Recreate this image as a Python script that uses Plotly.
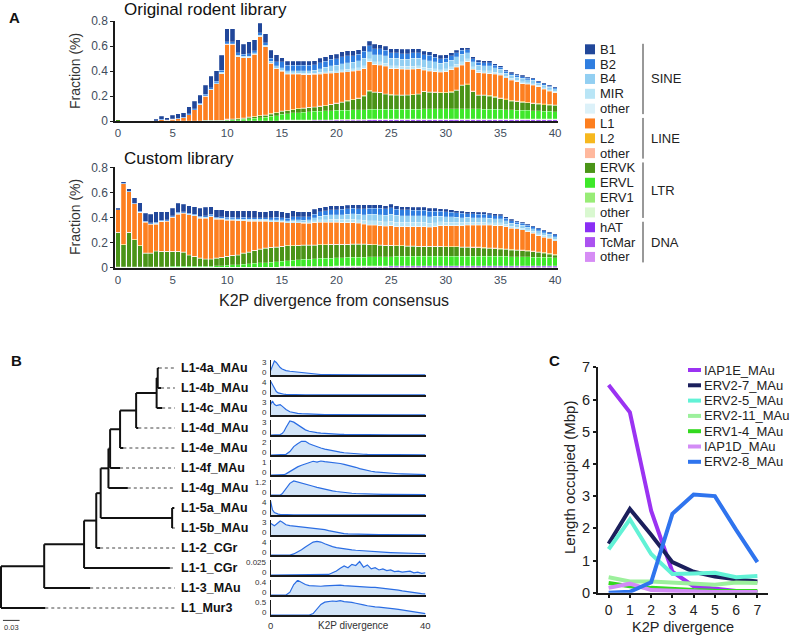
import plotly.graph_objects as go

W, H = 791, 635
FONT = "Liberation Sans, Arial, Helvetica, sans-serif"


def px(x):
    return x / W


def py(y):
    return 1 - y / H


# ---------------- Panel A data ----------------
divergence_bins = [i * 0.5 for i in range(81)]
a_xticks = [0, 5, 10, 15, 20, 25, 30, 35, 40]
a_yticks = [0, 0.2, 0.4, 0.6, 0.8]
a_yticktext = ["0", "0.2", "0.4", "0.6", "0.8"]

# Original rodent library
B1_o = [0, 0, 0, 0, 0, 0, 0, 0.010, 0.026, 0.016,
        0.028, 0.033, 0.038, 0.055, 0.058, 0.066, 0.074, 0.090, 0.085, 0.120,
        0.105, 0.105, 0.105, 0.080, 0.095, 0.085, 0.075, 0.070, 0.065, 0.055,
        0.035, 0.032, 0.032, 0.032, 0.032, 0.032, 0.032, 0.034, 0.036, 0.038,
        0.038, 0.040, 0.040, 0.038, 0.038, 0.040, 0.037, 0.036, 0.035, 0.034,
        0.034, 0.034, 0.033, 0.033, 0.033, 0.032, 0.030, 0.030, 0.028, 0.026,
        0.026, 0.025, 0.022, 0.020, 0.014, 0.015, 0.016, 0.016, 0.016, 0.014,
        0.012, 0.011, 0.011, 0.011, 0.012, 0.010, 0.010, 0.009, 0.009, 0.008,
        0.008]
B2_o = [0, 0, 0, 0, 0, 0, 0, 0, 0.003, 0.002,
        0.003, 0.004, 0.005, 0.007, 0.008, 0.009, 0.010, 0.012, 0.012, 0.018,
        0.015, 0.015, 0.020, 0.018, 0.020, 0.018, 0.020, 0.020, 0.025, 0.030,
        0.045, 0.042, 0.042, 0.042, 0.043, 0.043, 0.044, 0.048, 0.050, 0.052,
        0.052, 0.055, 0.055, 0.053, 0.053, 0.055, 0.048, 0.047, 0.046, 0.045,
        0.045, 0.045, 0.044, 0.044, 0.045, 0.044, 0.041, 0.041, 0.038, 0.035,
        0.035, 0.034, 0.032, 0.030, 0.024, 0.023, 0.023, 0.022, 0.022, 0.019,
        0.016, 0.014, 0.013, 0.013, 0.014, 0.012, 0.012, 0.010, 0.010, 0.010,
        0.010]
B4_o = [0, 0, 0, 0, 0, 0, 0, 0, 0, 0,
        0, 0, 0, 0.002, 0.002, 0.003, 0.004, 0.005, 0.005, 0.008,
        0.005, 0.005, 0.008, 0.008, 0.009, 0.010, 0.010, 0.010, 0.015, 0.022,
        0.020, 0.018, 0.019, 0.020, 0.021, 0.021, 0.022, 0.030, 0.035, 0.042,
        0.044, 0.050, 0.053, 0.052, 0.055, 0.060, 0.055, 0.057, 0.058, 0.057,
        0.057, 0.059, 0.057, 0.059, 0.062, 0.062, 0.058, 0.060, 0.056, 0.052,
        0.052, 0.055, 0.058, 0.062, 0.050, 0.042, 0.041, 0.041, 0.043, 0.036,
        0.031, 0.025, 0.024, 0.024, 0.028, 0.023, 0.025, 0.018, 0.020, 0.019,
        0.019]
MIR_o = [0, 0, 0, 0, 0, 0, 0, 0, 0, 0,
         0, 0, 0, 0, 0, 0, 0, 0, 0, 0.002,
         0.002, 0.002, 0.002, 0.002, 0.002, 0.002, 0.002, 0.002, 0.002, 0.002,
         0.008, 0.007, 0.007, 0.007, 0.007, 0.007, 0.007, 0.010, 0.011, 0.012,
         0.013, 0.016, 0.017, 0.017, 0.018, 0.021, 0.021, 0.021, 0.022, 0.021,
         0.021, 0.021, 0.021, 0.021, 0.022, 0.021, 0.020, 0.021, 0.020, 0.019,
         0.019, 0.020, 0.022, 0.023, 0.020, 0.018, 0.017, 0.017, 0.018, 0.013,
         0.012, 0.010, 0.010, 0.010, 0.011, 0.009, 0.009, 0.008, 0.009, 0.008,
         0.008]
SINEoth_o = [0, 0, 0, 0, 0, 0, 0, 0, 0, 0,
             0, 0, 0, 0, 0, 0, 0, 0, 0, 0,
             0, 0, 0, 0, 0, 0, 0, 0, 0, 0,
             0.003, 0.003, 0.003, 0.003, 0.003, 0.003, 0.003, 0.003, 0.003, 0.003,
             0.003, 0.003, 0.003, 0.003, 0.003, 0.003, 0.003, 0.003, 0.003, 0.003,
             0.003, 0.003, 0.003, 0.003, 0.003, 0.003, 0.003, 0.003, 0.003, 0.003,
             0.003, 0.003, 0.003, 0.003, 0.003, 0.003, 0.003, 0.003, 0.003, 0.003,
             0.003, 0.003, 0.003, 0.003, 0.003, 0.003, 0.003, 0.003, 0.003, 0.003,
             0.003]
L1_o = [0, 0, 0, 0, 0, 0, 0, 0.003, 0.010, 0.008,
        0.012, 0.017, 0.022, 0.047, 0.087, 0.127, 0.194, 0.244, 0.294, 0.374,
        0.596, 0.593, 0.492, 0.480, 0.474, 0.495, 0.630, 0.545, 0.400, 0.350,
        0.315, 0.290, 0.280, 0.272, 0.265, 0.260, 0.257, 0.255, 0.255, 0.248,
        0.240, 0.235, 0.228, 0.223, 0.220, 0.215, 0.230, 0.215, 0.216, 0.220,
        0.207, 0.206, 0.204, 0.201, 0.200, 0.198, 0.168, 0.165, 0.162, 0.160,
        0.165, 0.173, 0.178, 0.156, 0.178, 0.171, 0.175, 0.171, 0.173, 0.178,
        0.181, 0.168, 0.161, 0.153, 0.143, 0.143, 0.141, 0.133, 0.119, 0.105,
        0.095]
L2_o = [0, 0, 0, 0, 0, 0, 0, 0, 0, 0,
        0, 0, 0, 0, 0, 0, 0, 0, 0, 0,
        0.003, 0.003, 0.003, 0.003, 0.003, 0.003, 0.003, 0.003, 0.003, 0.003,
        0.003, 0.003, 0.003, 0.003, 0.003, 0.003, 0.003, 0.003, 0.003, 0.003,
        0.003, 0.003, 0.003, 0.003, 0.003, 0.003, 0.003, 0.003, 0.003, 0.003,
        0.003, 0.003, 0.003, 0.003, 0.003, 0.003, 0.003, 0.003, 0.003, 0.003,
        0.003, 0.005, 0.005, 0.005, 0.005, 0.005, 0.005, 0.005, 0.005, 0.005,
        0.005, 0.005, 0.005, 0.005, 0.005, 0.005, 0.005, 0.005, 0.005, 0.005,
        0.005]
LINEoth_o = [0, 0, 0, 0, 0, 0, 0, 0, 0, 0,
             0, 0, 0, 0, 0, 0, 0, 0, 0, 0,
             0.002, 0.002, 0.002, 0.002, 0.002, 0.002, 0.002, 0.002, 0.002, 0.002,
             0.002, 0.002, 0.002, 0.002, 0.002, 0.002, 0.002, 0.002, 0.002, 0.002,
             0.002, 0.002, 0.002, 0.002, 0.002, 0.002, 0.002, 0.002, 0.002, 0.002,
             0.002, 0.002, 0.002, 0.002, 0.002, 0.002, 0.002, 0.002, 0.002, 0.002,
             0.002, 0.002, 0.002, 0.002, 0.002, 0.002, 0.002, 0.002, 0.002, 0.002,
             0.002, 0.002, 0.002, 0.002, 0.002, 0.002, 0.002, 0.002, 0.002, 0.002,
             0.002]
ERVK_o = [0.010, 0, 0, 0, 0, 0, 0, 0, 0, 0,
          0.003, 0.003, 0.003, 0.003, 0.003, 0.003, 0.006, 0.006, 0.003, 0.002,
          0.005, 0.006, 0.007, 0.009, 0.010, 0.011, 0.014, 0.015, 0.019, 0.022,
          0.022, 0.021, 0.025, 0.029, 0.031, 0.033, 0.033, 0.036, 0.039, 0.047,
          0.054, 0.063, 0.072, 0.081, 0.090, 0.110, 0.146, 0.136, 0.132, 0.120,
          0.113, 0.112, 0.111, 0.111, 0.114, 0.119, 0.138, 0.133, 0.131, 0.128,
          0.128, 0.132, 0.147, 0.187, 0.192, 0.138, 0.108, 0.109, 0.105, 0.096,
          0.087, 0.078, 0.070, 0.067, 0.063, 0.059, 0.056, 0.053, 0.050, 0.050,
          0.049]
ERVL_o = [0, 0, 0, 0, 0, 0, 0, 0, 0, 0,
          0, 0, 0, 0, 0, 0, 0, 0, 0.003, 0.004,
          0.006, 0.008, 0.010, 0.012, 0.016, 0.020, 0.024, 0.028, 0.034, 0.040,
          0.045, 0.050, 0.055, 0.058, 0.061, 0.064, 0.066, 0.068, 0.070, 0.072,
          0.073, 0.074, 0.075, 0.076, 0.077, 0.077, 0.076, 0.076, 0.077, 0.077,
          0.077, 0.077, 0.077, 0.078, 0.078, 0.078, 0.079, 0.079, 0.079, 0.079,
          0.079, 0.080, 0.080, 0.080, 0.080, 0.079, 0.079, 0.078, 0.077, 0.076,
          0.075, 0.074, 0.072, 0.070, 0.069, 0.068, 0.066, 0.064, 0.062, 0.060,
          0.058]
ERV1_o = [0, 0, 0, 0, 0, 0, 0, 0, 0, 0,
          0, 0, 0, 0, 0, 0, 0, 0, 0, 0,
          0.001, 0.001, 0.001, 0.001, 0.001, 0.001, 0.001, 0.001, 0.001, 0.001,
          0.004, 0.004, 0.004, 0.004, 0.004, 0.004, 0.004, 0.004, 0.004, 0.004,
          0.004, 0.004, 0.004, 0.004, 0.004, 0.004, 0.004, 0.004, 0.004, 0.004,
          0.004, 0.004, 0.004, 0.004, 0.004, 0.004, 0.004, 0.004, 0.004, 0.004,
          0.004, 0.004, 0.004, 0.004, 0.004, 0.004, 0.004, 0.004, 0.004, 0.004,
          0.004, 0.004, 0.004, 0.004, 0.004, 0.004, 0.004, 0.004, 0.004, 0.004,
          0.004]
LTRoth_o = [0, 0, 0, 0, 0, 0, 0, 0, 0, 0,
            0, 0, 0, 0, 0, 0, 0, 0, 0, 0,
            0, 0, 0, 0, 0, 0, 0, 0, 0, 0,
            0.003, 0.003, 0.003, 0.003, 0.003, 0.003, 0.003, 0.003, 0.003, 0.003,
            0.003, 0.003, 0.003, 0.003, 0.003, 0.003, 0.003, 0.003, 0.003, 0.003,
            0.003, 0.003, 0.003, 0.003, 0.003, 0.003, 0.003, 0.003, 0.003, 0.003,
            0.003, 0.003, 0.003, 0.003, 0.003, 0.003, 0.003, 0.003, 0.003, 0.003,
            0.003, 0.003, 0.003, 0.003, 0.003, 0.003, 0.003, 0.003, 0.003, 0.003,
            0.003]
hAT_o = [0, 0, 0, 0, 0, 0, 0, 0, 0, 0,
         0, 0, 0, 0, 0, 0, 0, 0, 0, 0,
         0, 0, 0, 0, 0.002, 0.002, 0.002, 0.002, 0.002, 0.002,
         0.002, 0.002, 0.002, 0.002, 0.002, 0.002, 0.004, 0.004, 0.004, 0.004,
         0.004, 0.004, 0.004, 0.004, 0.004, 0.004, 0.007, 0.007, 0.007, 0.007,
         0.007, 0.007, 0.007, 0.007, 0.007, 0.007, 0.007, 0.007, 0.007, 0.007,
         0.007, 0.007, 0.007, 0.007, 0.007, 0.007, 0.007, 0.007, 0.007, 0.007,
         0.007, 0.007, 0.007, 0.007, 0.007, 0.007, 0.007, 0.007, 0.007, 0.007,
         0.007]
TcMar_o = [0, 0, 0, 0, 0, 0, 0, 0, 0, 0,
           0, 0, 0, 0, 0, 0, 0, 0, 0, 0,
           0, 0, 0, 0, 0, 0, 0, 0, 0, 0,
           0.001, 0.001, 0.001, 0.001, 0.001, 0.001, 0.001, 0.001, 0.001, 0.001,
           0.001, 0.001, 0.001, 0.001, 0.001, 0.001, 0.003, 0.003, 0.003, 0.003,
           0.003, 0.003, 0.003, 0.003, 0.003, 0.003, 0.003, 0.003, 0.003, 0.003,
           0.003, 0.003, 0.003, 0.003, 0.003, 0.003, 0.003, 0.003, 0.003, 0.003,
           0.003, 0.003, 0.003, 0.003, 0.003, 0.003, 0.003, 0.003, 0.003, 0.003,
           0.003]
DNAoth_o = [0, 0, 0, 0, 0, 0, 0, 0, 0, 0,
            0, 0, 0, 0, 0, 0, 0, 0, 0, 0,
            0, 0, 0, 0, 0, 0, 0, 0, 0, 0,
            0, 0, 0, 0, 0, 0, 0, 0, 0, 0,
            0.001, 0.001, 0.001, 0.001, 0.001, 0.001, 0.001, 0.001, 0.001, 0.001,
            0.001, 0.001, 0.001, 0.001, 0.001, 0.001, 0.001, 0.001, 0.001, 0.001,
            0.001, 0.001, 0.001, 0.001, 0.001, 0.001, 0.001, 0.001, 0.001, 0.001,
            0.001, 0.001, 0.001, 0.001, 0.001, 0.001, 0.001, 0.001, 0.001, 0.001,
            0.001]

# Custom library
B1_c = [0.010, 0.015, 0.018, 0.045, 0.070, 0.062, 0.068, 0.085, 0.070, 0.065,
        0.060, 0.072, 0.058, 0.060, 0.060, 0.062, 0.068, 0.062, 0.056, 0.055,
        0.054, 0.053, 0.055, 0.054, 0.053, 0.052, 0.048, 0.047, 0.052, 0.050,
        0.047, 0.044, 0.048, 0.042, 0.042, 0.040, 0.038, 0.035, 0.033, 0.032,
        0.030, 0.030, 0.029, 0.030, 0.029, 0.029, 0.029, 0.028, 0.028, 0.027,
        0.028, 0.027, 0.026, 0.025, 0.024, 0.024, 0.024, 0.023, 0.022, 0.021,
        0.020, 0.019, 0.018, 0.017, 0.016, 0.016, 0.015, 0.015, 0.014, 0.014,
        0.013, 0.012, 0.011, 0.010, 0.010, 0.009, 0.009, 0.009, 0.008, 0.008,
        0.008]
B2_c = [0.002, 0.002, 0.003, 0.004, 0.006, 0.005, 0.006, 0.008, 0.006, 0.006,
        0.007, 0.009, 0.008, 0.009, 0.009, 0.010, 0.011, 0.010, 0.010, 0.010,
        0.011, 0.011, 0.013, 0.013, 0.014, 0.015, 0.014, 0.015, 0.017, 0.018,
        0.019, 0.019, 0.024, 0.023, 0.025, 0.026, 0.030, 0.034, 0.037, 0.039,
        0.040, 0.042, 0.043, 0.045, 0.046, 0.048, 0.050, 0.050, 0.050, 0.049,
        0.050, 0.049, 0.047, 0.047, 0.045, 0.045, 0.045, 0.044, 0.042, 0.039,
        0.037, 0.035, 0.034, 0.032, 0.030, 0.029, 0.028, 0.028, 0.026, 0.025,
        0.024, 0.021, 0.019, 0.016, 0.016, 0.015, 0.015, 0.016, 0.014, 0.012,
        0.013]
B4_c = [0.001, 0.001, 0.001, 0.001, 0.002, 0.002, 0.002, 0.004, 0.002, 0.002,
        0.002, 0.004, 0.003, 0.004, 0.004, 0.004, 0.005, 0.005, 0.005, 0.005,
        0.006, 0.007, 0.007, 0.008, 0.008, 0.008, 0.008, 0.008, 0.010, 0.010,
        0.010, 0.010, 0.014, 0.014, 0.016, 0.016, 0.023, 0.029, 0.033, 0.035,
        0.036, 0.038, 0.040, 0.041, 0.043, 0.046, 0.050, 0.051, 0.052, 0.052,
        0.055, 0.053, 0.052, 0.053, 0.051, 0.051, 0.051, 0.050, 0.049, 0.046,
        0.044, 0.043, 0.041, 0.039, 0.038, 0.037, 0.035, 0.035, 0.034, 0.032,
        0.032, 0.028, 0.025, 0.022, 0.022, 0.022, 0.022, 0.023, 0.022, 0.020,
        0.021]
MIR_c = [0, 0, 0, 0.001, 0.002, 0.001, 0.002, 0.002, 0.002, 0.002,
         0.002, 0.002, 0.002, 0.002, 0.002, 0.003, 0.003, 0.003, 0.003, 0.004,
         0.004, 0.004, 0.005, 0.005, 0.005, 0.005, 0.005, 0.005, 0.006, 0.007,
         0.006, 0.006, 0.009, 0.008, 0.009, 0.010, 0.013, 0.017, 0.020, 0.022,
         0.022, 0.022, 0.022, 0.024, 0.024, 0.027, 0.030, 0.030, 0.031, 0.031,
         0.033, 0.032, 0.031, 0.031, 0.030, 0.030, 0.030, 0.030, 0.029, 0.026,
         0.025, 0.024, 0.023, 0.022, 0.021, 0.020, 0.019, 0.019, 0.018, 0.018,
         0.018, 0.017, 0.015, 0.013, 0.013, 0.013, 0.013, 0.014, 0.013, 0.011,
         0.012]
SINEoth_c = [0, 0, 0, 0, 0, 0, 0, 0, 0, 0,
             0, 0, 0, 0, 0, 0, 0, 0, 0, 0,
             0, 0, 0, 0, 0, 0, 0, 0, 0, 0,
             0.001, 0.001, 0.001, 0.001, 0.001, 0.001, 0.002, 0.002, 0.002, 0.002,
             0.002, 0.004, 0.004, 0.004, 0.004, 0.004, 0.004, 0.004, 0.004, 0.004,
             0.004, 0.004, 0.004, 0.004, 0.004, 0.004, 0.004, 0.004, 0.004, 0.004,
             0.004, 0.004, 0.004, 0.004, 0.004, 0.004, 0.004, 0.004, 0.004, 0.004,
             0.004, 0.002, 0.002, 0.002, 0.002, 0.002, 0.002, 0.002, 0.002, 0.002,
             0.002]
L1_c = [0.176, 0.483, 0.323, 0.283, 0.262, 0.246, 0.230, 0.211, 0.235, 0.240,
        0.270, 0.294, 0.308, 0.315, 0.320, 0.316, 0.321, 0.334, 0.308, 0.302,
        0.288, 0.280, 0.270, 0.257, 0.246, 0.232, 0.222, 0.214, 0.203, 0.201,
        0.192, 0.182, 0.182, 0.179, 0.172, 0.172, 0.177, 0.177, 0.177, 0.174,
        0.174, 0.171, 0.171, 0.169, 0.164, 0.156, 0.152, 0.155, 0.153, 0.152,
        0.155, 0.150, 0.150, 0.153, 0.153, 0.155, 0.155, 0.150, 0.155, 0.163,
        0.166, 0.164, 0.164, 0.167, 0.170, 0.172, 0.174, 0.177, 0.178, 0.177,
        0.180, 0.175, 0.167, 0.165, 0.159, 0.148, 0.140, 0.127, 0.119, 0.119,
        0.106]
L2_c = [0.002, 0.002, 0.002, 0.002, 0.002, 0.002, 0.002, 0.002, 0.002, 0.002,
        0.002, 0.002, 0.002, 0.002, 0.002, 0.002, 0.002, 0.002, 0.002, 0.002,
        0.002, 0.002, 0.002, 0.002, 0.002, 0.002, 0.002, 0.002, 0.002, 0.002,
        0.002, 0.002, 0.002, 0.002, 0.002, 0.002, 0.002, 0.002, 0.002, 0.002,
        0.002, 0.002, 0.002, 0.002, 0.002, 0.002, 0.002, 0.002, 0.002, 0.002,
        0.002, 0.002, 0.002, 0.002, 0.002, 0.002, 0.002, 0.002, 0.002, 0.002,
        0.002, 0.004, 0.004, 0.004, 0.004, 0.004, 0.004, 0.004, 0.004, 0.004,
        0.004, 0.004, 0.004, 0.004, 0.004, 0.004, 0.004, 0.004, 0.004, 0.004,
        0.004]
LINEoth_c = [0.002, 0.002, 0.002, 0.002, 0.002, 0.002, 0.002, 0.002, 0.002, 0.002,
             0.002, 0.002, 0.002, 0.002, 0.002, 0.002, 0.002, 0.002, 0.002, 0.002,
             0.002, 0.002, 0.002, 0.002, 0.002, 0.002, 0.002, 0.002, 0.002, 0.002,
             0.002, 0.002, 0.002, 0.002, 0.002, 0.002, 0.002, 0.002, 0.002, 0.002,
             0.002, 0.002, 0.002, 0.002, 0.002, 0.002, 0.002, 0.002, 0.002, 0.002,
             0.002, 0.002, 0.002, 0.002, 0.002, 0.002, 0.002, 0.002, 0.002, 0.002,
             0.002, 0.002, 0.002, 0.002, 0.002, 0.002, 0.002, 0.002, 0.002, 0.002,
             0.002, 0.002, 0.002, 0.002, 0.002, 0.002, 0.002, 0.002, 0.002, 0.002,
             0.002]
ERVK_c = [0.273, 0.174, 0.272, 0.214, 0.166, 0.107, 0.107, 0.126, 0.121, 0.121,
          0.118, 0.118, 0.112, 0.091, 0.078, 0.064, 0.059, 0.059, 0.060, 0.064,
          0.068, 0.073, 0.076, 0.086, 0.091, 0.101, 0.108, 0.113, 0.116, 0.115,
          0.115, 0.117, 0.113, 0.113, 0.112, 0.109, 0.106, 0.107, 0.105, 0.107,
          0.104, 0.103, 0.102, 0.103, 0.102, 0.101, 0.098, 0.095, 0.091, 0.089,
          0.087, 0.083, 0.083, 0.080, 0.080, 0.078, 0.078, 0.078, 0.078, 0.078,
          0.075, 0.074, 0.074, 0.071, 0.071, 0.069, 0.069, 0.066, 0.063, 0.061,
          0.058, 0.056, 0.052, 0.050, 0.049, 0.047, 0.043, 0.038, 0.034, 0.027,
          0.021]
ERVL_c = [0.003, 0.003, 0.003, 0.003, 0.003, 0.003, 0.003, 0.003, 0.003, 0.003,
          0.006, 0.006, 0.006, 0.006, 0.006, 0.006, 0.006, 0.006, 0.010, 0.012,
          0.015, 0.018, 0.020, 0.023, 0.026, 0.030, 0.033, 0.036, 0.039, 0.042,
          0.043, 0.046, 0.050, 0.053, 0.056, 0.059, 0.062, 0.064, 0.066, 0.067,
          0.066, 0.067, 0.068, 0.069, 0.070, 0.071, 0.072, 0.072, 0.073, 0.073,
          0.072, 0.073, 0.073, 0.073, 0.073, 0.073, 0.073, 0.073, 0.073, 0.073,
          0.073, 0.074, 0.074, 0.074, 0.074, 0.074, 0.074, 0.074, 0.074, 0.074,
          0.074, 0.073, 0.072, 0.071, 0.070, 0.069, 0.068, 0.067, 0.066, 0.065,
          0.063]
ERV1_c = [0.002, 0.002, 0.002, 0.002, 0.002, 0.002, 0.002, 0.002, 0.002, 0.002,
          0.002, 0.002, 0.002, 0.002, 0.002, 0.002, 0.002, 0.002, 0.002, 0.002,
          0.003, 0.003, 0.003, 0.003, 0.003, 0.003, 0.003, 0.003, 0.003, 0.003,
          0.003, 0.003, 0.003, 0.003, 0.003, 0.003, 0.003, 0.003, 0.003, 0.003,
          0.003, 0.003, 0.003, 0.003, 0.003, 0.003, 0.003, 0.003, 0.003, 0.003,
          0.003, 0.003, 0.003, 0.003, 0.003, 0.003, 0.003, 0.003, 0.003, 0.003,
          0.003, 0.003, 0.003, 0.003, 0.003, 0.003, 0.003, 0.003, 0.003, 0.003,
          0.003, 0.003, 0.003, 0.003, 0.003, 0.003, 0.003, 0.003, 0.003, 0.003,
          0.003]
LTRoth_c = [0.002, 0.002, 0.002, 0.002, 0.002, 0.002, 0.002, 0.002, 0.002, 0.002,
            0.002, 0.002, 0.002, 0.002, 0.002, 0.002, 0.002, 0.002, 0.002, 0.002,
            0.002, 0.002, 0.002, 0.002, 0.002, 0.002, 0.002, 0.002, 0.002, 0.002,
            0.002, 0.002, 0.002, 0.002, 0.002, 0.002, 0.002, 0.002, 0.002, 0.002,
            0.002, 0.002, 0.002, 0.002, 0.002, 0.002, 0.002, 0.002, 0.002, 0.002,
            0.002, 0.002, 0.002, 0.002, 0.002, 0.002, 0.002, 0.002, 0.002, 0.002,
            0.002, 0.002, 0.002, 0.002, 0.002, 0.002, 0.002, 0.002, 0.002, 0.002,
            0.002, 0.002, 0.002, 0.002, 0.002, 0.002, 0.002, 0.002, 0.002, 0.002,
            0.002]
hAT_c = [0, 0, 0, 0, 0, 0, 0, 0, 0, 0,
         0, 0, 0, 0, 0, 0, 0, 0, 0, 0,
         0, 0, 0, 0, 0, 0, 0, 0, 0, 0,
         0.003, 0.003, 0.003, 0.003, 0.003, 0.003, 0.003, 0.003, 0.003, 0.003,
         0.006, 0.006, 0.006, 0.006, 0.006, 0.006, 0.006, 0.006, 0.006, 0.006,
         0.009, 0.009, 0.009, 0.009, 0.009, 0.009, 0.009, 0.009, 0.009, 0.009,
         0.009, 0.009, 0.009, 0.009, 0.009, 0.009, 0.009, 0.009, 0.009, 0.009,
         0.009, 0.009, 0.009, 0.009, 0.009, 0.009, 0.009, 0.009, 0.009, 0.009,
         0.009]
TcMar_c = [0, 0, 0, 0, 0, 0, 0, 0, 0, 0,
           0, 0, 0, 0, 0, 0, 0, 0, 0, 0,
           0, 0, 0, 0, 0, 0, 0, 0, 0, 0,
           0.002, 0.002, 0.002, 0.002, 0.002, 0.002, 0.002, 0.002, 0.002, 0.002,
           0.002, 0.002, 0.002, 0.002, 0.002, 0.002, 0.002, 0.002, 0.002, 0.002,
           0.002, 0.002, 0.002, 0.002, 0.002, 0.002, 0.002, 0.002, 0.002, 0.002,
           0.002, 0.002, 0.002, 0.002, 0.002, 0.002, 0.002, 0.002, 0.002, 0.002,
           0.002, 0.002, 0.002, 0.002, 0.002, 0.002, 0.002, 0.002, 0.002, 0.002,
           0.002]
DNAoth_c = [0, 0, 0, 0, 0, 0, 0, 0, 0, 0,
            0, 0, 0, 0, 0, 0, 0, 0, 0, 0,
            0, 0, 0, 0, 0, 0, 0, 0, 0, 0,
            0, 0, 0, 0, 0, 0, 0, 0, 0, 0,
            0.001, 0.001, 0.001, 0.001, 0.001, 0.001, 0.001, 0.001, 0.001, 0.001,
            0.001, 0.001, 0.001, 0.001, 0.001, 0.001, 0.001, 0.001, 0.001, 0.001,
            0.001, 0.001, 0.001, 0.001, 0.001, 0.001, 0.001, 0.001, 0.001, 0.001,
            0.001, 0.001, 0.001, 0.001, 0.001, 0.001, 0.001, 0.001, 0.001, 0.001,
            0.001]

repeat_names = ["B1", "B2", "B4", "MIR", "other", "L1", "L2", "other",
                "ERVK", "ERVL", "ERV1", "other", "hAT", "TcMar", "other"]
repeat_colors = ["#21479a", "#2f7ee0", "#92cff2", "#b9e5f6", "#dcf1f9",
                 "#fd7f20", "#f6b81f", "#ffb89d",
                 "#4a9417", "#3ee82a", "#98ec76", "#d9f8d0",
                 "#8a2ef5", "#ab52f0", "#d68cf5"]
repeat_groups = [("SINE", 0, 4), ("LINE", 5, 7), ("LTR", 8, 11), ("DNA", 12, 14)]

orig_series = [B1_o, B2_o, B4_o, MIR_o, SINEoth_o, L1_o, L2_o, LINEoth_o,
               ERVK_o, ERVL_o, ERV1_o, LTRoth_o, hAT_o, TcMar_o, DNAoth_o]
cust_series = [B1_c, B2_c, B4_c, MIR_c, SINEoth_c, L1_c, L2_c, LINEoth_c,
               ERVK_c, ERVL_c, ERV1_c, LTRoth_c, hAT_c, TcMar_c, DNAoth_c]

# ---------------- Panel B data ----------------
leaf_names = ["L1-4a_MAu", "L1-4b_MAu", "L1-4c_MAu", "L1-4d_MAu", "L1-4e_MAu",
              "L1-4f_MAu", "L1-4g_MAu", "L1-5a_MAu", "L1-5b_MAu", "L1-2_CGr",
              "L1-1_CGr", "L1-3_MAu", "L1_Mur3"]
leaf_tip = [0.285, 0.289, 0.291, 0.248, 0.221, 0.215, 0.229, 0.313, 0.310,
            0.179, 0.305, 0.161, 0.080]
# (node, depth, children) listed children-first
internal_nodes = [
    ("n1", 0.283, ["L1-4a_MAu", "L1-4b_MAu"]),
    ("n2", 0.281, ["n1", "L1-4c_MAu"]),
    ("n3", 0.244, ["n2", "L1-4d_MAu"]),
    ("n4", 0.215, ["n3", "L1-4e_MAu"]),
    ("n5", 0.197, ["n4", "L1-4f_MAu"]),
    ("n6", 0.194, ["n5", "L1-4g_MAu"]),
    ("n5ab", 0.309, ["L1-5a_MAu", "L1-5b_MAu"]),
    ("n7", 0.180, ["n6", "n5ab"]),
    ("n8", 0.172, ["n7", "L1-2_CGr"]),
    ("n9", 0.150, ["n8", "L1-1_CGr"]),
    ("n10", 0.078, ["n9", "L1-3_MAu"]),
    ("root", 0.0, ["n10", "L1_Mur3"]),
]
label_depth = 0.314
scale_bar = [0.0035, 0.0335]  # 0.03 substitutions

density_x = [0, 0.5, 1, 1.5, 2, 2.5, 3, 3.5, 4,
             5, 6, 7, 8, 9, 10,
             11, 12, 13, 14, 15, 16, 17, 18, 19, 20,
             21, 22, 23, 24, 25, 26, 27, 28, 29, 30,
             31, 32, 33, 34, 35, 36, 37, 38, 39, 40]
density_rows = [
    (3, "3", [0.9, 2.2, 3.0, 2.7, 2.0, 1.6, 1.3, 1.1, 0.95,
              0.8, 0.7, 0.55, 0.45, 0.35, 0.28,
              0.2, 0.15, 0.11, 0.09, 0.07, 0.06, 0.05, 0.05, 0.04, 0.04,
              0.035, 0.03, 0.03, 0.03, 0.03, 0.025, 0.025, 0.025, 0.02, 0.02,
              0.02, 0.02, 0.02, 0.02, 0.02, 0.02, 0.015, 0.015, 0.015, 0.015]),
    (4, "4", [4.0, 3.0, 1.8, 1.0, 0.6, 0.4, 0.3, 0.22, 0.18,
              0.12, 0.09, 0.07, 0.06, 0.05, 0.04,
              0.035, 0.03, 0.03, 0.025, 0.025, 0.02, 0.02, 0.02, 0.02, 0.02,
              0.015, 0.015, 0.015, 0.015, 0.015, 0.015, 0.015, 0.015, 0.015, 0.015,
              0.01, 0.01, 0.01, 0.01, 0.01, 0.01, 0.01, 0.01, 0.01, 0.01]),
    (3, "3", [2.2, 3.0, 2.3, 2.0, 2.1, 2.2, 1.9, 1.5, 1.2,
              0.7, 0.45, 0.35, 0.28, 0.22, 0.18,
              0.15, 0.12, 0.1, 0.08, 0.07, 0.06, 0.05, 0.05, 0.04, 0.04,
              0.035, 0.03, 0.03, 0.03, 0.025, 0.025, 0.025, 0.02, 0.02, 0.02,
              0.02, 0.02, 0.015, 0.015, 0.015, 0.015, 0.015, 0.01, 0.01, 0.01]),
    (3, "3", [0, 0, 0, 0, 0, 0.1, 0.3, 0.8, 1.6,
              3.0, 2.75, 2.2, 1.6, 1.1, 0.8,
              0.6, 0.5, 0.4, 0.32, 0.28, 0.25, 0.2, 0.15, 0.12, 0.1,
              0.09, 0.08, 0.07, 0.06, 0.05, 0.05, 0.04, 0.04, 0.04, 0.03,
              0.03, 0.03, 0.03, 0.03, 0.025, 0.025, 0.02, 0.02, 0.02, 0.02]),
    (2, "2", [0, 0, 0, 0, 0, 0, 0, 0, 0.1,
              0.5, 1.2, 1.6, 1.95, 1.95, 1.6,
              1.4, 1.15, 1.0, 0.85, 0.72, 0.6, 0.48, 0.4, 0.32, 0.26,
              0.2, 0.16, 0.13, 0.11, 0.09, 0.08, 0.07, 0.06, 0.05, 0.05,
              0.04, 0.04, 0.04, 0.04, 0.04, 0.03, 0.03, 0.03, 0.03, 0.03]),
    (1, "1", [0, 0, 0, 0, 0, 0, 0, 0.02, 0.08,
              0.25, 0.45, 0.58, 0.7, 0.78, 0.85,
              0.98, 0.92, 1.0, 0.95, 0.93, 0.9, 0.88, 0.82, 0.76, 0.7,
              0.62, 0.55, 0.46, 0.38, 0.32, 0.27, 0.22, 0.19, 0.16, 0.14,
              0.12, 0.1, 0.09, 0.08, 0.07, 0.06, 0.05, 0.04, 0.04, 0.03]),
    (1.2, "1.2", [0, 0, 0, 0, 0, 0, 0.1, 0.35, 0.6,
                  1.0, 1.2, 1.12, 1.05, 0.95, 0.85,
                  0.75, 0.66, 0.57, 0.5, 0.42, 0.36, 0.3, 0.25, 0.21, 0.18,
                  0.15, 0.13, 0.11, 0.1, 0.09, 0.08, 0.07, 0.06, 0.05, 0.05,
                  0.05, 0.04, 0.04, 0.04, 0.04, 0.03, 0.03, 0.03, 0.03, 0.03]),
    (4, "4", [4.0, 1.5, 0.7, 0.4, 0.25, 0.18, 0.14, 0.11, 0.09,
              0.07, 0.05, 0.04, 0.035, 0.03, 0.03,
              0.025, 0.025, 0.02, 0.02, 0.02, 0.02, 0.015, 0.015, 0.015, 0.015,
              0.015, 0.01, 0.01, 0.01, 0.01, 0.01, 0.01, 0.01, 0.01, 0.01,
              0.01, 0.01, 0.01, 0.01, 0.01, 0.01, 0.01, 0.01, 0.01, 0.01]),
    (3, "3", [2.5, 2.2, 2.0, 2.3, 2.6, 3.0, 2.8, 2.4, 2.2,
              2.0, 1.9, 1.85, 1.8, 1.75, 1.6,
              1.5, 1.4, 1.3, 1.15, 0.95, 0.75, 0.55, 0.4, 0.3, 0.24,
              0.2, 0.17, 0.15, 0.12, 0.1, 0.09, 0.08, 0.07, 0.06, 0.05,
              0.05, 0.04, 0.04, 0.04, 0.03, 0.03, 0.03, 0.03, 0.03, 0.03]),
    (4, "4", [0, 0, 0, 0, 0, 0, 0, 0, 0,
              0, 0.3, 0.8, 1.5, 2.3, 3.1,
              3.7, 3.9, 3.7, 3.2, 2.7, 2.4, 2.1, 1.9, 1.7, 1.55,
              1.45, 1.35, 1.25, 1.15, 1.08, 1.0, 0.92, 0.85, 0.8, 0.75,
              0.7, 0.65, 0.62, 0.58, 0.55, 0.5, 0.47, 0.43, 0.4, 0.36]),
    (0.025, "0.025", [0, 0, 0, 0, 0, 0, 0, 0, 0,
                      0, 0, 0, 0, 0, 0,
                      0, 0, 0, 0, 0.001, 0.004, 0.007, 0.012, 0.016, 0.013,
                      0.019, 0.017, 0.024, 0.014, 0.018, 0.011, 0.013, 0.009, 0.011, 0.008,
                      0.009, 0.006, 0.007, 0.005, 0.006, 0.007, 0.004, 0.005, 0.003, 0.004]),
    (0.4, "0.4", [0, 0, 0, 0, 0, 0, 0, 0, 0,
                  0.08, 0.3, 0.42, 0.35, 0.3, 0.27,
                  0.26, 0.25, 0.25, 0.26, 0.27, 0.28, 0.27, 0.28, 0.27, 0.26,
                  0.26, 0.25, 0.24, 0.24, 0.23, 0.22, 0.22, 0.21, 0.2, 0.19,
                  0.18, 0.16, 0.14, 0.12, 0.1, 0.08, 0.06, 0.05, 0.04, 0.03]),
    (0.5, "0.5", [0, 0, 0, 0, 0, 0, 0, 0, 0,
                  0, 0, 0, 0, 0, 0,
                  0.05, 0.2, 0.38, 0.46, 0.48, 0.5, 0.49, 0.51, 0.48, 0.47,
                  0.45, 0.42, 0.4, 0.36, 0.33, 0.3, 0.29, 0.28, 0.27, 0.25,
                  0.24, 0.22, 0.2, 0.18, 0.17, 0.15, 0.13, 0.1, 0.08, 0.05]),
]

# ---------------- Panel C data ----------------
c_divergence = [0, 1, 2, 3, 4, 5, 6, 7]
c_names = ["IAP1E_MAu", "ERV2-7_MAu", "ERV2-5_MAu", "ERV2-11_MAu",
           "ERV1-4_MAu", "IAP1D_MAu", "ERV2-8_MAu"]
c_colors = ["#9b33f2", "#1b1f5c", "#62f2d6", "#9cf09c", "#33d91f", "#d38cf6", "#2f74ee"]
IAP1E = [6.45, 5.6, 2.55, 0.65, 0.2, 0.12, 0.05, 0.02]
ERV2_7 = [1.52, 2.6, 1.8, 0.95, 0.65, 0.5, 0.42, 0.35]
ERV2_5 = [1.35, 2.28, 1.2, 0.58, 0.6, 0.62, 0.48, 0.52]
ERV2_11 = [0.48, 0.35, 0.35, 0.32, 0.28, 0.25, 0.32, 0.3]
ERV1_4 = [0.3, 0.2, 0.15, 0.1, 0.08, 0.06, 0.05, 0.05]
IAP1D = [0.15, 0.28, 0.08, 0.05, 0.03, 0.02, 0.02, 0.02]
ERV2_8 = [0.0, 0.03, 0.32, 2.45, 3.05, 3.0, 1.95, 0.95]
c_values = [IAP1E, ERV2_7, ERV2_5, ERV2_11, ERV1_4, IAP1D, ERV2_8]
c_ticks = [0, 1, 2, 3, 4, 5, 6, 7]

# ================= Figure =================
fig = go.Figure()
layout = dict(
    width=W, height=H, margin=dict(l=0, r=0, t=0, b=0),
    paper_bgcolor="white", plot_bgcolor="white",
    barmode="stack", bargap=0.17, showlegend=False,
    font=dict(family=FONT, color="#222"),
)
annotations = []
shapes = []


def ann(x, y, text, size=12, color="#222", xanchor="center", yanchor="middle", angle=0):
    annotations.append(dict(x=px(x), y=py(y), xref="paper", yref="paper", text=text,
                            showarrow=False, xanchor=xanchor, yanchor=yanchor,
                            textangle=angle, borderpad=0,
                            font=dict(size=size, color=color, family=FONT)))


AX_LINE = "#1a1a1a"
TICK_COL = "#3f4d5c"

# ---- Panel A bars ----
for suffix, series in (("", orig_series), ("2", cust_series)):
    for idx in reversed(range(len(repeat_names))):
        fig.add_trace(go.Bar(
            x=divergence_bins, y=series[idx], name=repeat_names[idx],
            marker=dict(color=repeat_colors[idx],
                        line=dict(color="rgba(255,255,255,0.55)", width=0.4)),
            xaxis="x" + suffix, yaxis="y" + suffix, hoverinfo="skip"))

for suffix, top, bottom in (("", 21, 121), ("2", 167.3, 267.7)):
    layout["xaxis" + suffix] = dict(
        domain=[px(115), px(558)], range=[-0.27, 40.27], tickvals=a_xticks,
        ticks="", tickfont=dict(size=11.5, color=TICK_COL), showline=True,
        linecolor=AX_LINE, linewidth=2, showgrid=False, zeroline=False,
        anchor="y" + suffix, automargin=False)
    layout["yaxis" + suffix] = dict(
        domain=[py(bottom), py(top)], range=[0, 0.8], tickvals=a_yticks,
        ticktext=a_yticktext, ticks="outside", ticklen=3, tickcolor=AX_LINE,
        tickfont=dict(size=12, color=TICK_COL), showline=True, linecolor=AX_LINE,
        linewidth=1.5, showgrid=False, zeroline=False, anchor="x" + suffix,
        automargin=False)

ann(8, 17, "<b>A</b>", size=15, color="#111", xanchor="left")
ann(123, 10, "Original rodent library", size=17, color="#111", xanchor="left")
ann(123, 159, "Custom library", size=17, color="#111", xanchor="left")
ann(75, 71, "Fraction (%)", size=14, color="#333", angle=-90)
ann(75, 217, "Fraction (%)", size=14, color="#333", angle=-90)
ann(334, 300, "K2P divergence from consensus", size=16, color="#222")

# legend for panel A
leg_y0, leg_dy = 49.3, 14.83
for i, (name, col) in enumerate(zip(repeat_names, repeat_colors)):
    yc = leg_y0 + i * leg_dy
    shapes.append(dict(type="rect", xref="paper", yref="paper",
                       x0=px(585), x1=px(595), y0=py(yc + 5), y1=py(yc - 5),
                       fillcolor=col, line=dict(width=0)))
    ann(598.5, yc, name, size=13, color="#222", xanchor="left")
for gname, i0, i1 in repeat_groups:
    ya = leg_y0 + i0 * leg_dy - 5.5
    yb = leg_y0 + i1 * leg_dy + 5.5
    shapes.append(dict(type="line", xref="paper", yref="paper",
                       x0=px(643), x1=px(643), y0=py(ya), y1=py(yb),
                       line=dict(color="#333", width=1)))
    ann(650, (ya + yb) / 2, gname, size=13, color="#222", xanchor="left")

# ---- Panel B tree ----
node_x = dict(zip(leaf_names, leaf_tip))
node_y = {n: i for i, n in enumerate(leaf_names)}
solid_x, solid_y = [], []
for name, depth, children in internal_nodes:
    node_x[name] = depth
    ys = [node_y[c] for c in children]
    node_y[name] = (min(ys) + max(ys)) / 2
    solid_x += [depth, depth, None]
    solid_y += [min(ys), max(ys), None]
    for c in children:
        solid_x += [depth, node_x[c], None]
        solid_y += [node_y[c], node_y[c], None]
dot_x, dot_y = [], []
for i, name in enumerate(leaf_names):
    if node_x[name] < label_depth - 0.002:
        dot_x += [node_x[name], label_depth, None]
        dot_y += [i, i, None]
fig.add_trace(go.Scatter(x=dot_x, y=dot_y, mode="lines", xaxis="x3", yaxis="y3",
                         line=dict(color="#444", width=1, dash="dot"), hoverinfo="skip"))
fig.add_trace(go.Scatter(x=solid_x, y=solid_y, mode="lines", xaxis="x3", yaxis="y3",
                         line=dict(color="#111", width=2), hoverinfo="skip"))
fig.add_trace(go.Scatter(x=scale_bar, y=[12.62, 12.62], mode="lines", xaxis="x3", yaxis="y3",
                         line=dict(color="#333", width=1), hoverinfo="skip"))
layout["xaxis3"] = dict(domain=[0, px(176)], range=[-0.0018, 0.316], visible=False,
                        anchor="y3", automargin=False)
layout["yaxis3"] = dict(domain=[py(622), py(360)], range=[12.7, -0.4], visible=False,
                        anchor="x3", automargin=False)
ann(10, 360, "<b>B</b>", size=15, color="#111", xanchor="left")
ann(11, 627, "0.03", size=7.5, color="#333")
for i, name in enumerate(leaf_names):
    ann(180, 368 + 20 * i, "<b>" + name + "</b>", size=12.5, color="#111", xanchor="left")

# ---- Panel B density rows ----
for k, (ymax, ylab, vals) in enumerate(density_rows):
    n = str(4 + k)
    base = 375 + 20 * k
    fig.add_trace(go.Scatter(
        x=density_x, y=vals, mode="lines", fill="tozeroy", fillcolor="#d3e5f8",
        line=dict(color="#2b6de3", width=1.2), xaxis="x" + n, yaxis="y" + n,
        hoverinfo="skip"))
    layout["xaxis" + n] = dict(domain=[px(270.5), px(425.5)], range=[0, 40],
                               showline=True, linecolor=AX_LINE, linewidth=1.5,
                               showticklabels=False, ticks="", showgrid=False,
                               zeroline=False, anchor="y" + n, automargin=False)
    layout["yaxis" + n] = dict(domain=[py(base), py(base - 15)], range=[0, ymax * 15 / 14],
                               showticklabels=False, ticks="", showline=True,
                               linecolor=AX_LINE, linewidth=1, showgrid=False,
                               zeroline=False, anchor="x" + n, automargin=False)
    ann(268, base - 13, ylab, size=8, color="#333", xanchor="right")
    ann(268, base - 2.5, "0", size=8, color="#333", xanchor="right")
ann(270.5, 625, "0", size=9.5, color="#333")
ann(425.5, 625, "40", size=9.5, color="#333")
ann(353, 625, "K2P divergence", size=10, color="#333")

# ---- Panel C ----
for name, col, vals in zip(c_names, c_colors, c_values):
    fig.add_trace(go.Scatter(x=c_divergence, y=vals, mode="lines", name=name,
                             line=dict(color=col, width=4), xaxis="x17", yaxis="y17",
                             hoverinfo="skip"))
layout["xaxis17"] = dict(domain=[px(598), px(768)], range=[-0.5, 7.5], tickvals=c_ticks,
                         ticks="outside", ticklen=3, tickwidth=1.5, tickcolor=AX_LINE,
                         tickfont=dict(size=14, color="#222"), showline=True,
                         linecolor=AX_LINE, linewidth=2, showgrid=False, zeroline=False,
                         anchor="y17", automargin=False)
layout["yaxis17"] = dict(domain=[py(592.7), py(367.3)], range=[0, 7], tickvals=c_ticks,
                         ticks="outside", ticklen=3, tickwidth=1.5, tickcolor=AX_LINE,
                         tickfont=dict(size=14.5, color="#222"), showline=True,
                         linecolor=AX_LINE, linewidth=2, showgrid=False, zeroline=False,
                         anchor="x17", automargin=False)
ann(548, 360, "<b>C</b>", size=15, color="#111", xanchor="left")
ann(569, 478, "Length occupied (Mbp)", size=15, color="#222", angle=-90)
ann(683, 626.5, "K2P divergence", size=14.5, color="#222")
for i, (name, col) in enumerate(zip(c_names, c_colors)):
    yc = 370 + i * 15.3
    shapes.append(dict(type="line", xref="paper", yref="paper",
                       x0=px(688), x1=px(701), y0=py(yc), y1=py(yc),
                       line=dict(color=col, width=4)))
    ann(703, yc, name, size=13, color="#222", xanchor="left")

layout["annotations"] = annotations
layout["shapes"] = shapes
fig.update_layout(**layout)
fig.write_html("out.html", config={"displayModeBar": False},
               post_script="document.body.style.margin='0px';"
                           "document.body.style.overflow='hidden';")
